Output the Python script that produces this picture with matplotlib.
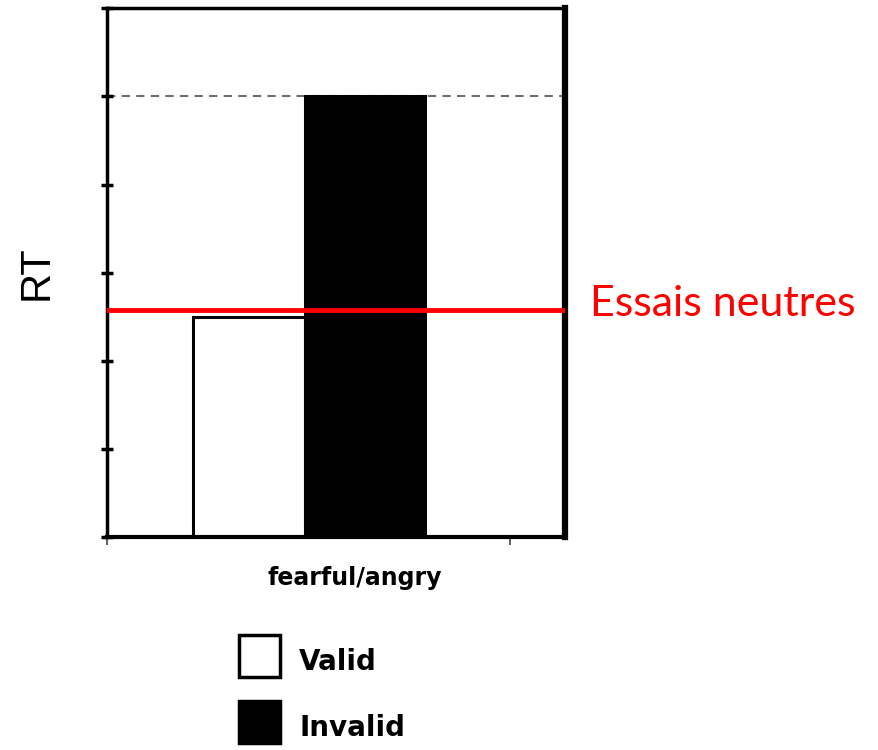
import matplotlib
matplotlib.use("Agg")
import matplotlib.pyplot as plt
from matplotlib.patches import Rectangle

# data
conditions = ["Valid", "Invalid"]
rt_values = [2.5, 5.0]
bar_colors = ["white", "black"]
neutral_rt = 2.58
category = "fearful/angry"

fig = plt.figure(figsize=(8.79, 7.5), dpi=100)
ax = fig.add_axes([0.1217, 0.284, 0.521, 0.705])

lefts = [0.213, 0.491]
widths = [0.278, 0.298]
for x0, w, v, c in zip(lefts, widths, rt_values, bar_colors):
    ax.bar(x0, v, width=w, align="edge", color=c, edgecolor="black",
           linewidth=2.2, zorder=2)

# dashed reference at the invalid level
ax.axhline(rt_values[1], color="#6f6f6f", linestyle=(0, (4, 3)), linewidth=1.5, zorder=1)
ax.axhline(neutral_rt, xmin=0.003, xmax=0.993, color="#ff0000", linewidth=3.5, zorder=3)

ax.set_xlim(0, 1.136)
ax.set_ylim(0, 6)
ax.set_yticks(range(0, 7))
ax.set_xticks([0, 1])
ax.set_yticklabels([])
ax.set_xticklabels([])
ax.tick_params(axis="y", direction="inout", length=9, width=2.5)
ax.tick_params(axis="x", direction="out", length=6, width=1.2, color="#444444")

ax.spines["left"].set_linewidth(2.5)
ax.spines["top"].set_linewidth(2.5)
ax.spines["bottom"].set_linewidth(3)
ax.spines["right"].set_linewidth(4.5)

ax.set_ylabel("RT", fontsize=30, family="Liberation Sans", labelpad=28)

fig.text(355 / 879, 1 - 578 / 750, category, ha="center", va="center",
         fontsize=17, fontweight="bold", family="DejaVu Sans")

fig.text(590 / 879, 1 - 304 / 750, "Essais neutres", ha="left", va="center",
         fontsize=31, color="#ff0000", family="Lato")

# legend drawn by hand
for i, (lab, col) in enumerate(zip(conditions, bar_colors)):
    yc = 656 + i * 66
    fig.patches.append(Rectangle((239 / 879, 1 - (yc + 21) / 750), 41 / 879, 42 / 750,
                                 transform=fig.transFigure, facecolor=col,
                                 edgecolor="black", linewidth=2.5))
    fig.text(299 / 879, 1 - (yc + 6) / 750, lab, ha="left", va="center",
             fontsize=20, fontweight="bold", family="DejaVu Sans")

fig.savefig("out.png", dpi=100)
